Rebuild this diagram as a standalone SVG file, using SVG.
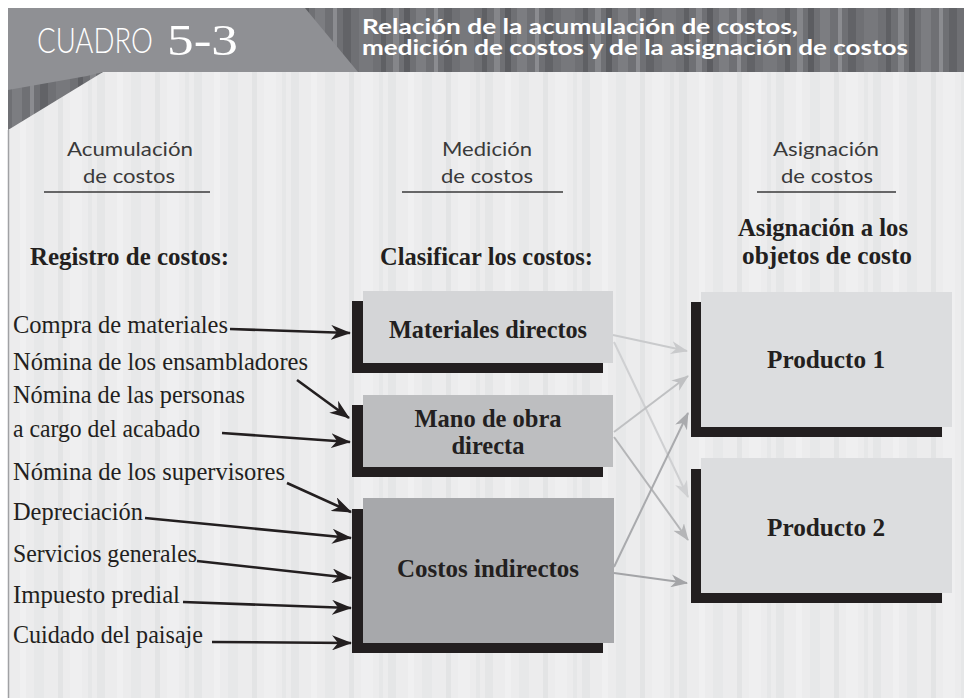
<svg xmlns="http://www.w3.org/2000/svg" width="964" height="698" viewBox="0 0 964 698">
<defs>
<style>
.ser{font-family:"Liberation Serif","DejaVu Serif",serif;fill:#231f20}
.reg{font-size:24.5px}
.bld{font-size:24.5px;font-weight:bold}
.hdr{font-family:"Lato","Liberation Sans",sans-serif;font-size:19px;fill:#3a3a3a;text-anchor:middle}
.ttl{font-family:"Lato","Liberation Sans",sans-serif;font-size:21px;font-weight:bold;fill:#ffffff}
.shadow{fill:#231f20}
.blk{stroke:#231f20;stroke-width:2.6;fill:none;marker-end:url(#ab)}
.g1{stroke:#c9cacc;stroke-width:2;fill:none;marker-end:url(#m1)}
.g2{stroke:#cfd0d2;stroke-width:2;fill:none;marker-end:url(#m2)}
.g3{stroke:#bfc0c2;stroke-width:2;fill:none;marker-end:url(#m3)}
.g4{stroke:#b4b5b7;stroke-width:2;fill:none;marker-end:url(#m4)}
.g5{stroke:#a9aaad;stroke-width:2;fill:none;marker-end:url(#m5)}
.g6{stroke:#a3a4a7;stroke-width:2;fill:none;marker-end:url(#m6)}
.ul{stroke:#3a3a3a;stroke-width:1.5}
</style>
<marker id="ab" markerUnits="userSpaceOnUse" viewBox="0 0 20 15" refX="19" refY="7.5" markerWidth="20" markerHeight="15" orient="auto"><path d="M0,0 L20,7.5 L0,15 L6,7.5 z" fill="#231f20"/></marker>
<marker id="m1" markerUnits="userSpaceOnUse" viewBox="0 0 17 13" refX="16" refY="6.5" markerWidth="17" markerHeight="13" orient="auto"><path d="M0,0 L17,6.5 L0,13 L5,6.5 z" fill="#c9cacc"/></marker>
<marker id="m2" markerUnits="userSpaceOnUse" viewBox="0 0 17 13" refX="16" refY="6.5" markerWidth="17" markerHeight="13" orient="auto"><path d="M0,0 L17,6.5 L0,13 L5,6.5 z" fill="#cfd0d2"/></marker>
<marker id="m3" markerUnits="userSpaceOnUse" viewBox="0 0 17 13" refX="16" refY="6.5" markerWidth="17" markerHeight="13" orient="auto"><path d="M0,0 L17,6.5 L0,13 L5,6.5 z" fill="#bfc0c2"/></marker>
<marker id="m4" markerUnits="userSpaceOnUse" viewBox="0 0 17 13" refX="16" refY="6.5" markerWidth="17" markerHeight="13" orient="auto"><path d="M0,0 L17,6.5 L0,13 L5,6.5 z" fill="#b4b5b7"/></marker>
<marker id="m5" markerUnits="userSpaceOnUse" viewBox="0 0 17 13" refX="16" refY="6.5" markerWidth="17" markerHeight="13" orient="auto"><path d="M0,0 L17,6.5 L0,13 L5,6.5 z" fill="#a9aaad"/></marker>
<marker id="m6" markerUnits="userSpaceOnUse" viewBox="0 0 17 13" refX="16" refY="6.5" markerWidth="17" markerHeight="13" orient="auto"><path d="M0,0 L17,6.5 L0,13 L5,6.5 z" fill="#a3a4a7"/></marker>
<pattern id="bodyStripes" width="97" height="698" patternUnits="userSpaceOnUse">
<rect width="97" height="698" fill="#ececed"/>
<rect x="0" width="8" height="698" fill="#e5e6e7"/>
<rect x="20" width="6" height="698" fill="#f0f0f1"/>
<rect x="34" width="10" height="698" fill="#e7e8e9"/>
<rect x="58" width="5" height="698" fill="#e3e4e5"/>
<rect x="70" width="12" height="698" fill="#efeff0"/>
<rect x="88" width="4" height="698" fill="#e6e7e8"/>
</pattern>
<pattern id="bandStripes" width="101" height="80" patternUnits="userSpaceOnUse">
<rect width="101" height="80" fill="#6f7074"/>
<rect x="0" width="6" height="80" fill="#5c5d61"/>
<rect x="12" width="10" height="80" fill="#7c7d81"/>
<rect x="30" width="4" height="80" fill="#8b8c90"/>
<rect x="40" width="8" height="80" fill="#626367"/>
<rect x="56" width="14" height="80" fill="#77787c"/>
<rect x="78" width="5" height="80" fill="#5f6064"/>
<rect x="90" width="6" height="80" fill="#85868a"/>
</pattern>
</defs>

<g id="background">
<rect width="964" height="698" fill="#ffffff"/>
<rect x="8" y="72" width="956" height="626" fill="url(#bodyStripes)"/>
<rect x="8" y="8" width="956" height="64" fill="url(#bandStripes)"/>
<polygon points="8,72 103,72 8,130" fill="url(#bandStripes)"/>
<polygon points="8,8 305,8 358,72 103,72 87,76 8,90" fill="#8f9094"/>
<line x1="8.5" y1="130" x2="8.5" y2="698" stroke="#a0a1a4" stroke-width="1.5"/>
</g>

<g id="title">
<text fill="#ffffff"><tspan x="37" y="53" font-family="Lato,'Open Sans','Liberation Sans',sans-serif" font-size="36" font-weight="300" textLength="116" lengthAdjust="spacingAndGlyphs">CUADRO</tspan><tspan x="167" y="55" font-family="'Liberation Serif',serif" font-size="44" textLength="71" lengthAdjust="spacingAndGlyphs">5-3</tspan></text>
<text class="ttl"><tspan x="362" y="34" textLength="436" lengthAdjust="spacingAndGlyphs">Relación de la acumulación de costos,</tspan><tspan x="362" y="55" textLength="546" lengthAdjust="spacingAndGlyphs">medición de costos y de la asignación de costos</tspan></text>
</g>

<g id="col-acumulacion">
<text class="hdr" x="130" y="156" textLength="126" lengthAdjust="spacingAndGlyphs">Acumulación</text>
<text class="hdr" x="129" y="183" textLength="92" lengthAdjust="spacingAndGlyphs">de costos</text>
<line class="ul" x1="44" y1="192" x2="210" y2="192"/>
<text class="ser bld" x="30" y="265" textLength="199" lengthAdjust="spacingAndGlyphs">Registro de costos:</text>
</g>
<g id="col-medicion">
<text class="hdr" x="487" y="156" textLength="90" lengthAdjust="spacingAndGlyphs">Medición</text>
<text class="hdr" x="487" y="183" textLength="92" lengthAdjust="spacingAndGlyphs">de costos</text>
<line class="ul" x1="402" y1="192" x2="563" y2="192"/>
<text class="ser bld" x="380" y="265" textLength="213" lengthAdjust="spacingAndGlyphs">Clasificar los costos:</text>
</g>
<g id="col-asignacion">
<text class="hdr" x="826" y="156" textLength="106" lengthAdjust="spacingAndGlyphs">Asignación</text>
<text class="hdr" x="827" y="183" textLength="92" lengthAdjust="spacingAndGlyphs">de costos</text>
<line class="ul" x1="757" y1="192" x2="896" y2="192"/>
<text class="ser bld" x="823" y="236" text-anchor="middle" textLength="170" lengthAdjust="spacingAndGlyphs">Asignación a los</text>
<text class="ser bld" x="827" y="264" text-anchor="middle" textLength="170" lengthAdjust="spacingAndGlyphs">objetos de costo</text>
</g>

<g id="src-compra"><text class="ser reg" x="13" y="333" textLength="215" lengthAdjust="spacingAndGlyphs">Compra de materiales</text></g>
<g id="src-ensambladores"><text class="ser reg" x="13" y="370" textLength="295" lengthAdjust="spacingAndGlyphs">Nómina de los ensambladores</text></g>
<g id="src-acabado"><text class="ser reg" x="13" y="403" textLength="232" lengthAdjust="spacingAndGlyphs">Nómina de las personas</text><text class="ser reg" x="13" y="437" textLength="187" lengthAdjust="spacingAndGlyphs">a cargo del acabado</text></g>
<g id="src-supervisores"><text class="ser reg" x="13" y="480" textLength="272" lengthAdjust="spacingAndGlyphs">Nómina de los supervisores</text></g>
<g id="src-depreciacion"><text class="ser reg" x="13" y="520" textLength="130" lengthAdjust="spacingAndGlyphs">Depreciación</text></g>
<g id="src-servicios"><text class="ser reg" x="13" y="562" textLength="184" lengthAdjust="spacingAndGlyphs">Servicios generales</text></g>
<g id="src-impuesto"><text class="ser reg" x="13" y="603" textLength="167" lengthAdjust="spacingAndGlyphs">Impuesto predial</text></g>
<g id="src-paisaje"><text class="ser reg" x="13" y="643" textLength="190" lengthAdjust="spacingAndGlyphs">Cuidado del paisaje</text></g>

<g id="node-materiales">
<rect class="shadow" x="352" y="301" width="251" height="72"/>
<rect x="363" y="291" width="250" height="72" fill="#d4d5d7"/>
<text class="ser bld" x="488" y="338" text-anchor="middle" textLength="198" lengthAdjust="spacingAndGlyphs">Materiales directos</text>
</g>
<g id="node-manoobra">
<rect class="shadow" x="352" y="405" width="251" height="72"/>
<rect x="363" y="395" width="250" height="72" fill="#bdbec0"/>
<text class="ser bld" x="488" y="427" text-anchor="middle">Mano de obra</text>
<text class="ser bld" x="488" y="454" text-anchor="middle">directa</text>
</g>
<g id="node-indirectos">
<rect class="shadow" x="352" y="509" width="251" height="144"/>
<rect x="363" y="498" width="251" height="145" fill="#a7a8ab"/>
<text class="ser bld" x="488" y="577" text-anchor="middle" textLength="182" lengthAdjust="spacingAndGlyphs">Costos indirectos</text>
</g>
<g id="node-producto1">
<rect class="shadow" x="691" y="302" width="251" height="135"/>
<rect x="701" y="292" width="251" height="135" fill="#dcdddf"/>
<text class="ser bld" x="826" y="368" text-anchor="middle" textLength="118" lengthAdjust="spacingAndGlyphs">Producto 1</text>
</g>
<g id="node-producto2">
<rect class="shadow" x="691" y="469" width="251" height="134"/>
<rect x="701" y="458" width="251" height="135" fill="#dcdddf"/>
<text class="ser bld" x="826" y="536" text-anchor="middle" textLength="118" lengthAdjust="spacingAndGlyphs">Producto 2</text>
</g>

<g id="connectors">
<line class="blk" x1="230" y1="329" x2="350" y2="333"/>
<line class="blk" x1="297" y1="380" x2="349" y2="418"/>
<line class="blk" x1="222" y1="433" x2="350" y2="442"/>
<line class="blk" x1="287" y1="483" x2="351" y2="512"/>
<line class="blk" x1="145" y1="518" x2="351" y2="538"/>
<line class="blk" x1="197" y1="561" x2="351" y2="578"/>
<line class="blk" x1="183" y1="602" x2="351" y2="608"/>
<line class="blk" x1="212" y1="642" x2="351" y2="643"/>
<line class="g2" x1="614" y1="342" x2="688" y2="497"/>
<line class="g1" x1="613" y1="335" x2="687" y2="351"/>
<line class="g3" x1="614" y1="432" x2="688" y2="376"/>
<line class="g4" x1="614" y1="437" x2="688" y2="540"/>
<line class="g5" x1="614" y1="567" x2="688" y2="413"/>
<line class="g6" x1="614" y1="573" x2="687" y2="583"/>
</g>
</svg>
